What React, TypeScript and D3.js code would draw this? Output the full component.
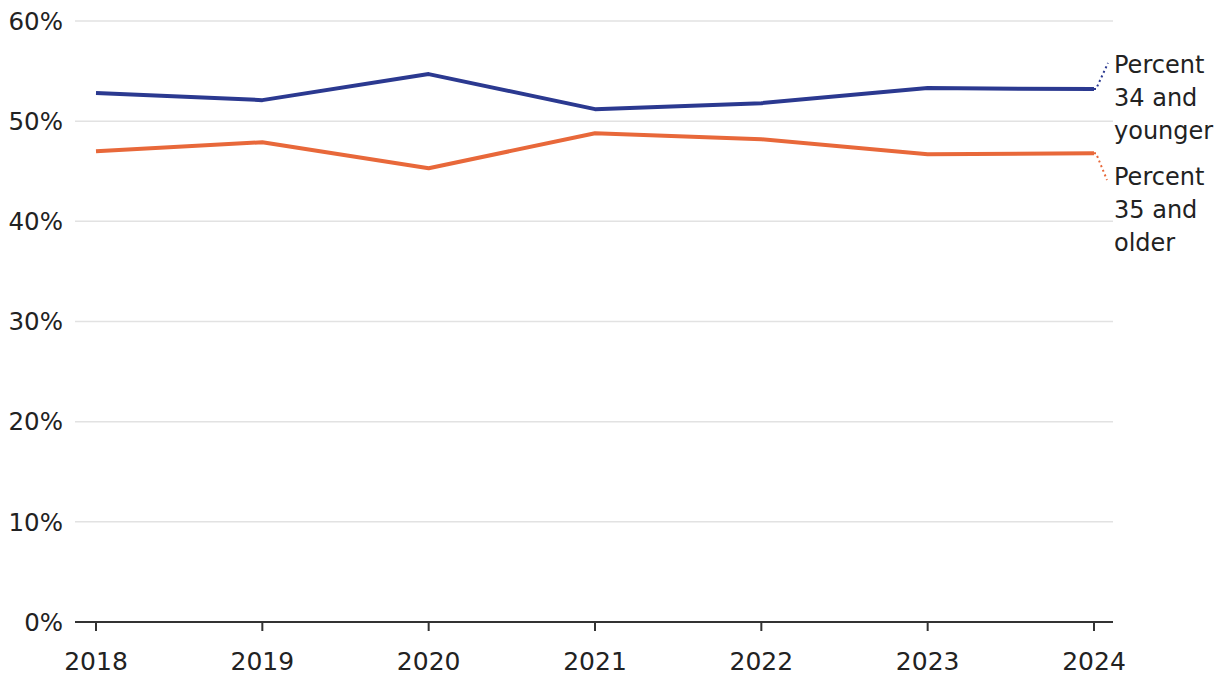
import React from "react";
import * as d3 from "d3";

const years = [2018, 2019, 2020, 2021, 2022, 2023, 2024];
const younger = [52.8, 52.1, 54.7, 51.2, 51.8, 53.3, 53.2];
const older = [47.0, 47.9, 45.3, 48.8, 48.2, 46.7, 46.8];
const yTicks = [0, 10, 20, 30, 40, 50, 60];
const labelYounger = ["Percent", "34 and", "younger"];
const labelOlder = ["Percent", "35 and", "older"];

const W = 1220;
const H = 682;
const FONT = "'DejaVu Sans', sans-serif";
const BLUE = "#2b3990";
const ORANGE = "#e8683a";

export default function App() {
  const x = d3.scaleLinear().domain([2018, 2024]).range([96, 1094]);
  const y = d3.scaleLinear().domain([0, 60]).range([622, 21]);
  const line = d3
    .line<number>()
    .x((_, i) => x(years[i]))
    .y((d) => y(d));

  const endX = x(2024);
  return (
    <svg
      width={W}
      height={H}
      style={{ position: "absolute", left: 0, top: 0, background: "#fff" }}
      fontFamily={FONT}
    >
      {yTicks.map((t) =>
        t === 0 ? null : (
          <line key={t} x1={75} x2={1113} y1={y(t)} y2={y(t)} stroke="#e2e2e2" strokeWidth={1.5} />
        )
      )}
      {yTicks.map((t) => (
        <text key={"l" + t} x={63} y={y(t)} dy="0.36em" textAnchor="end" fontSize={24.5} fill="#222">
          {t}%
        </text>
      ))}
      <line x1={75} x2={1113} y1={y(0)} y2={y(0)} stroke="#333" strokeWidth={2} />
      {years.map((yr) => (
        <g key={yr}>
          <line x1={x(yr)} x2={x(yr)} y1={y(0)} y2={y(0) + 9} stroke="#333" strokeWidth={2} />
          <text x={x(yr)} y={670} textAnchor="middle" fontSize={25} fill="#222">
            {yr}
          </text>
        </g>
      ))}
      <path d={line(older) || ""} fill="none" stroke={ORANGE} strokeWidth={4} strokeLinejoin="round" />
      <path d={line(younger) || ""} fill="none" stroke={BLUE} strokeWidth={4} strokeLinejoin="round" />
      <path
        d={`M${endX},${y(younger[6])}h2L1108,63`}
        fill="none"
        stroke={BLUE}
        strokeWidth={2}
        strokeDasharray="2,3"
      />
      <path
        d={`M${endX},${y(older[6])}h2L1107,180`}
        fill="none"
        stroke={ORANGE}
        strokeWidth={2}
        strokeDasharray="2,3"
      />
      {labelYounger.map((s, i) => (
        <text key={"a" + i} x={1114} y={73 + i * 33} fontSize={24} fill="#222">
          {s}
        </text>
      ))}
      {labelOlder.map((s, i) => (
        <text key={"b" + i} x={1114} y={185 + i * 33} fontSize={24} fill="#222">
          {s}
        </text>
      ))}
    </svg>
  );
}
